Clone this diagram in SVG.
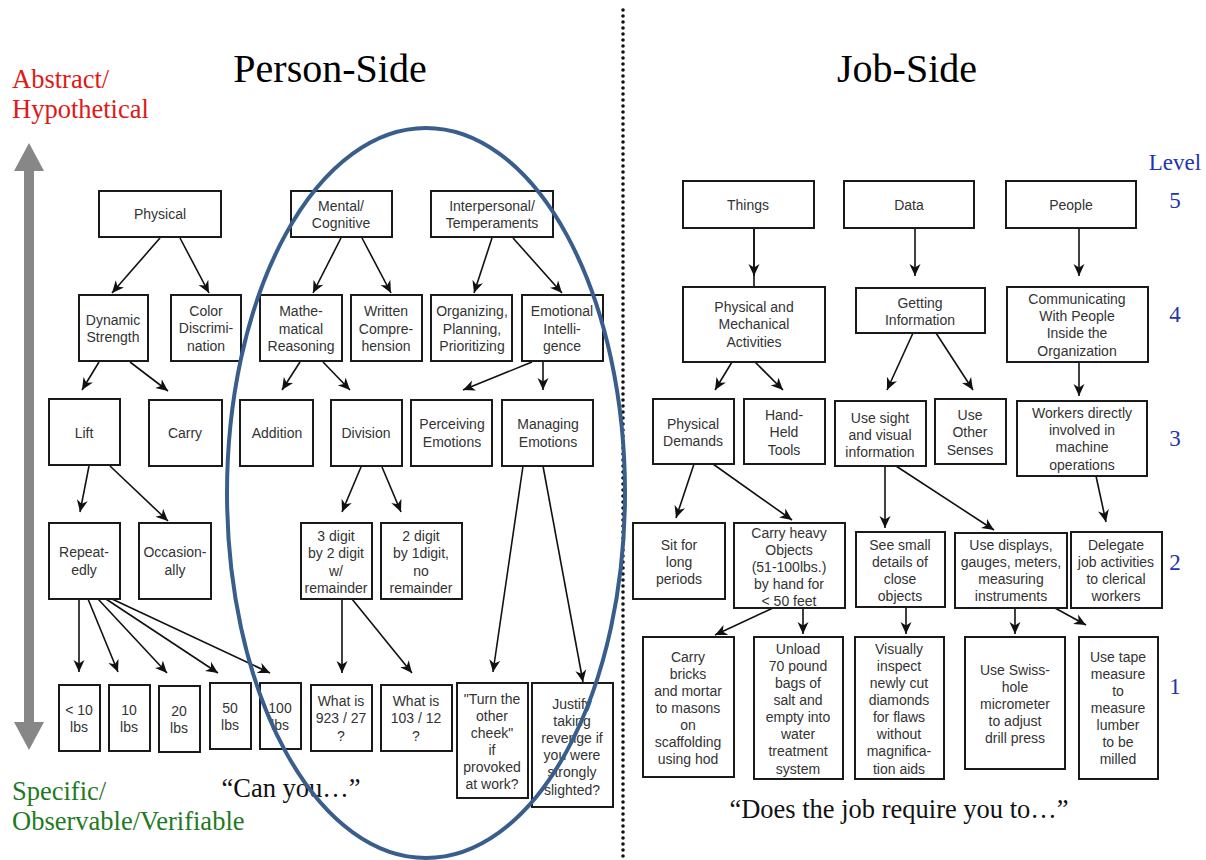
<svg xmlns="http://www.w3.org/2000/svg" width="1206" height="860" viewBox="0 0 1206 860">
<style>
.box{fill:#fff;stroke:#1a1a1a;stroke-width:2}
.t{font-family:"Liberation Sans",Arial,sans-serif;font-size:14px;fill:#333;text-anchor:middle;dominant-baseline:central}
.c{stroke:#111;stroke-width:1.6;fill:none;marker-end:url(#ah)}
.cn{stroke:#111;stroke-width:1.6;fill:none}
.serif{font-family:"Liberation Serif","Times New Roman",serif}
.lvl{font-family:"Liberation Serif","Times New Roman",serif;font-size:23px;fill:#2234b0;text-anchor:middle}
</style>
<defs>
<marker id="ah" markerUnits="userSpaceOnUse" markerWidth="13" markerHeight="12" refX="12" refY="6" orient="auto">
<path d="M0,0.5 L12,6 L0,11.5 L3.5,6 z" fill="#111"/>
</marker>
</defs>
<rect width="1206" height="860" fill="#fff"/>

<!-- titles and side labels -->
<text class="serif" x="330" y="82" font-size="40" text-anchor="middle" fill="#000">Person-Side</text>
<text class="serif" x="907" y="82" font-size="40" text-anchor="middle" fill="#000">Job-Side</text>
<text class="serif" x="12" y="88" font-size="26.5" fill="#e01818">Abstract/</text>
<text class="serif" x="12" y="118" font-size="26.5" fill="#e01818">Hypothetical</text>
<text class="serif" x="12" y="800" font-size="26.5" fill="#1f7a1f">Specific/</text>
<text class="serif" x="12" y="830" font-size="26.5" fill="#1f7a1f">Observable/Verifiable</text>
<text class="serif" x="291" y="797" font-size="26.5" text-anchor="middle" fill="#111">“Can you…”</text>
<text class="serif" x="899" y="818" font-size="26.5" text-anchor="middle" fill="#111">“Does the job require you to…”</text>
<text class="lvl" x="1175" y="170">Level</text>
<text class="lvl" x="1175" y="208">5</text>
<text class="lvl" x="1175" y="322">4</text>
<text class="lvl" x="1175" y="446">3</text>
<text class="lvl" x="1175" y="570">2</text>
<text class="lvl" x="1175" y="694">1</text>

<!-- gray double arrow -->
<path d="M24,171 L14,171 L29,143 L44,171 L34,171 L34,722 L44,722 L29,750 L14,722 L24,722 z" fill="#878787"/>

<!-- dotted divider -->
<line x1="623" y1="10" x2="623" y2="860" stroke="#111" stroke-width="3.6" stroke-linecap="round" stroke-dasharray="0 6"/>

<!-- connectors -->
<g id="connectors">
<path class="c" d="M160,238 L112,293"/>
<path class="c" d="M180,238 L209,293"/>
<path class="c" d="M341,238 L313,293"/>
<path class="c" d="M362,238 L391,293"/>
<path class="c" d="M492,238 L474,293"/>
<path class="c" d="M513,238 L562,293"/>
<path class="c" d="M99,362 L82,390"/>
<path class="c" d="M130,362 L168,391"/>
<path class="c" d="M300,362 L282,390"/>
<path class="c" d="M323,362 L350,390"/>
<path class="c" d="M532,362 L463,390"/>
<path class="c" d="M543,362 L543,390"/>
<path class="c" d="M89,466 L80,512"/>
<path class="c" d="M110,466 L168,521"/>
<path class="c" d="M361,467 L342,512"/>
<path class="c" d="M382,467 L401,512"/>
<path class="c" d="M79,599 L79,672"/>
<path class="c" d="M88,599 L118,672"/>
<path class="c" d="M98,599 L167,673"/>
<path class="c" d="M106,599 L218,673"/>
<path class="c" d="M112,599 L270,673"/>
<path class="c" d="M342,599 L342,673"/>
<path class="c" d="M352,599 L412,673"/>
<path class="c" d="M523,466 L493,672"/>
<path class="c" d="M543,466 L583,682"/>

<path class="cn" d="M754,228 L754,287"/>
<path class="c" d="M754,228 L754,276"/>
<path class="c" d="M915,228 L915,276"/>
<path class="c" d="M1079,228 L1079,276"/>
<path class="c" d="M732,362 L715,390"/>
<path class="c" d="M755,362 L783,390"/>
<path class="c" d="M913,333 L887,390"/>
<path class="c" d="M936,333 L973,390"/>
<path class="c" d="M1079,362 L1079,396"/>
<path class="c" d="M694,464 L676,518"/>
<path class="c" d="M713,464 L792,520"/>
<path class="c" d="M885,466 L885,528"/>
<path class="c" d="M896,466 L994,530"/>
<path class="c" d="M1096,476 L1106,522"/>
<path class="c" d="M773,608 L715,635"/>
<path class="c" d="M803,608 L803,634"/>
<path class="c" d="M906,607 L906,634"/>
<path class="c" d="M1015,608 L1015,634"/>
<path class="c" d="M1055,608 L1086,625"/>
</g>

<!-- person side nodes -->
<g id="physical"><rect class="box" x="99" y="191" width="122" height="46"/><text class="t" x="160" y="214">Physical</text></g>
<g id="mental"><rect class="box" x="291" y="191" width="101" height="46"/><text class="t"><tspan x="341" y="206">Mental/</tspan><tspan x="341" y="223">Cognitive</tspan></text></g>
<g id="interpersonal"><rect class="box" x="431" y="191" width="122" height="46"/><text class="t"><tspan x="492" y="206">Interpersonal/</tspan><tspan x="492" y="223">Temperaments</tspan></text></g>

<g id="dynamic"><rect class="box" x="79" y="295" width="69" height="66"/><text class="t"><tspan x="113" y="320">Dynamic</tspan><tspan x="113" y="337">Strength</tspan></text></g>
<g id="color"><rect class="box" x="171" y="295" width="70" height="66"/><text class="t"><tspan x="206" y="311">Color</tspan><tspan x="206" y="328">Discrimi-</tspan><tspan x="206" y="346">nation</tspan></text></g>
<g id="math"><rect class="box" x="260" y="295" width="82" height="66"/><text class="t"><tspan x="301" y="311">Mathe-</tspan><tspan x="301" y="329">matical</tspan><tspan x="301" y="346">Reasoning</tspan></text></g>
<g id="written"><rect class="box" x="351" y="295" width="71" height="66"/><text class="t"><tspan x="386" y="311">Written</tspan><tspan x="386" y="329">Compre-</tspan><tspan x="386" y="346">hension</tspan></text></g>
<g id="organizing"><rect class="box" x="431" y="295" width="81" height="66"/><text class="t"><tspan x="472" y="311">Organizing,</tspan><tspan x="472" y="329">Planning,</tspan><tspan x="472" y="346">Prioritizing</tspan></text></g>
<g id="emotional"><rect class="box" x="522" y="295" width="81" height="66"/><text class="t"><tspan x="562" y="311">Emotional</tspan><tspan x="562" y="329">Intelli-</tspan><tspan x="562" y="346">gence</tspan></text></g>

<g id="lift"><rect class="box" x="49" y="399" width="71" height="66"/><text class="t" x="84" y="433">Lift</text></g>
<g id="carry"><rect class="box" x="149" y="400" width="73" height="66"/><text class="t" x="185" y="433">Carry</text></g>
<g id="addition"><rect class="box" x="240" y="400" width="73" height="66"/><text class="t" x="277" y="433">Addition</text></g>
<g id="division"><rect class="box" x="331" y="400" width="71" height="66"/><text class="t" x="366" y="433">Division</text></g>
<g id="perceiving"><rect class="box" x="411" y="400" width="81" height="66"/><text class="t"><tspan x="452" y="424">Perceiving</tspan><tspan x="452" y="442">Emotions</tspan></text></g>
<g id="managing"><rect class="box" x="502" y="400" width="91" height="66"/><text class="t"><tspan x="548" y="424">Managing</tspan><tspan x="548" y="442">Emotions</tspan></text></g>

<g id="repeatedly"><rect class="box" x="49" y="523" width="71" height="76"/><text class="t"><tspan x="84" y="552">Repeat-</tspan><tspan x="84" y="570">edly</tspan></text></g>
<g id="occasionally"><rect class="box" x="139" y="523" width="72" height="76"/><text class="t"><tspan x="175" y="552">Occasion-</tspan><tspan x="175" y="570">ally</tspan></text></g>
<g id="digit3"><rect class="box" x="301" y="523" width="71" height="76"/><text class="t"><tspan x="336" y="536">3 digit</tspan><tspan x="336" y="553">by 2 digit</tspan><tspan x="336" y="571">w/</tspan><tspan x="336" y="588">remainder</tspan></text></g>
<g id="digit2"><rect class="box" x="381" y="523" width="81" height="76"/><text class="t"><tspan x="421" y="536">2 digit</tspan><tspan x="421" y="553">by 1digit,</tspan><tspan x="421" y="571">no</tspan><tspan x="421" y="588">remainder</tspan></text></g>

<g id="lbs-lt10"><rect class="box" x="59" y="685" width="41" height="66"/><text class="t"><tspan x="79" y="710">&lt; 10</tspan><tspan x="79" y="727">lbs</tspan></text></g>
<g id="lbs10"><rect class="box" x="109" y="685" width="41" height="66"/><text class="t"><tspan x="129" y="710">10</tspan><tspan x="129" y="727">lbs</tspan></text></g>
<g id="lbs20"><rect class="box" x="159" y="686" width="41" height="66"/><text class="t"><tspan x="179" y="711">20</tspan><tspan x="179" y="728">lbs</tspan></text></g>
<g id="lbs50"><rect class="box" x="210" y="683" width="41" height="66"/><text class="t"><tspan x="230" y="708">50</tspan><tspan x="230" y="725">lbs</tspan></text></g>
<g id="lbs100"><rect class="box" x="260" y="683" width="41" height="66"/><text class="t"><tspan x="280" y="708">100</tspan><tspan x="280" y="725">lbs</tspan></text></g>
<g id="q923"><rect class="box" x="311" y="685" width="61" height="66"/><text class="t"><tspan x="341" y="701">What is</tspan><tspan x="341" y="718">923 / 27</tspan><tspan x="341" y="736">?</tspan></text></g>
<g id="q103"><rect class="box" x="381" y="685" width="71" height="66"/><text class="t"><tspan x="416" y="701">What is</tspan><tspan x="416" y="718">103 / 12</tspan><tspan x="416" y="736">?</tspan></text></g>
<g id="cheek"><rect class="box" x="457" y="683" width="71" height="115"/><text class="t"><tspan x="492" y="699">"Turn the</tspan><tspan x="492" y="716">other</tspan><tspan x="492" y="733">cheek"</tspan><tspan x="492" y="750">if</tspan><tspan x="492" y="767">provoked</tspan><tspan x="492" y="784">at work?</tspan></text></g>
<g id="justify"><rect class="box" x="532" y="683" width="81" height="124"/><text class="t"><tspan x="572" y="704">Justify</tspan><tspan x="572" y="721">taking</tspan><tspan x="572" y="738">revenge if</tspan><tspan x="572" y="755">you were</tspan><tspan x="572" y="772">strongly</tspan><tspan x="572" y="790">slighted?</tspan></text></g>

<!-- job side nodes -->
<g id="things"><rect class="box" x="683" y="181" width="131" height="47"/><text class="t" x="748" y="205">Things</text></g>
<g id="data"><rect class="box" x="844" y="181" width="130" height="47"/><text class="t" x="909" y="205">Data</text></g>
<g id="people"><rect class="box" x="1006" y="181" width="130" height="47"/><text class="t" x="1071" y="205">People</text></g>
<g id="physmech"><rect class="box" x="683" y="287" width="142" height="75"/><text class="t"><tspan x="754" y="307">Physical and</tspan><tspan x="754" y="324">Mechanical</tspan><tspan x="754" y="342">Activities</tspan></text></g>
<g id="getting"><rect class="box" x="856" y="288" width="129" height="45"/><text class="t"><tspan x="920" y="303">Getting</tspan><tspan x="920" y="320">Information</tspan></text></g>
<g id="communicating"><rect class="box" x="1007" y="287" width="141" height="75"/><text class="t"><tspan x="1077" y="299">Communicating</tspan><tspan x="1077" y="316">With People</tspan><tspan x="1077" y="333">Inside the</tspan><tspan x="1077" y="351">Organization</tspan></text></g>

<g id="physdemands"><rect class="box" x="653" y="399" width="81" height="65"/><text class="t"><tspan x="693" y="424">Physical</tspan><tspan x="693" y="441">Demands</tspan></text></g>
<g id="handheld"><rect class="box" x="744" y="399" width="81" height="65"/><text class="t"><tspan x="784" y="415">Hand-</tspan><tspan x="784" y="432">Held</tspan><tspan x="784" y="450">Tools</tspan></text></g>
<g id="sight"><rect class="box" x="835" y="401" width="91" height="65"/><text class="t"><tspan x="880" y="418">Use sight</tspan><tspan x="880" y="435">and visual</tspan><tspan x="880" y="452">information</tspan></text></g>
<g id="senses"><rect class="box" x="935" y="399" width="71" height="65"/><text class="t"><tspan x="970" y="415">Use</tspan><tspan x="970" y="432">Other</tspan><tspan x="970" y="450">Senses</tspan></text></g>
<g id="workers"><rect class="box" x="1017" y="401" width="130" height="75"/><text class="t"><tspan x="1082" y="413">Workers directly</tspan><tspan x="1082" y="430">involved in</tspan><tspan x="1082" y="447">machine</tspan><tspan x="1082" y="465">operations</tspan></text></g>

<g id="sit"><rect class="box" x="633" y="523" width="92" height="76"/><text class="t"><tspan x="679" y="545">Sit for</tspan><tspan x="679" y="562">long</tspan><tspan x="679" y="579">periods</tspan></text></g>
<g id="carryheavy"><rect class="box" x="734" y="523" width="111" height="85"/><text class="t"><tspan x="789" y="533">Carry heavy</tspan><tspan x="789" y="550">Objects</tspan><tspan x="789" y="567">(51-100lbs.)</tspan><tspan x="789" y="584">by hand for</tspan><tspan x="789" y="601">&lt; 50 feet</tspan></text></g>
<g id="seesmall"><rect class="box" x="856" y="532" width="89" height="75"/><text class="t"><tspan x="900" y="545">See small</tspan><tspan x="900" y="562">details of</tspan><tspan x="900" y="579">close</tspan><tspan x="900" y="596">objects</tspan></text></g>
<g id="displays"><rect class="box" x="955" y="533" width="112" height="75"/><text class="t"><tspan x="1011" y="545">Use displays,</tspan><tspan x="1011" y="562">gauges, meters,</tspan><tspan x="1011" y="579">measuring</tspan><tspan x="1011" y="596">instruments</tspan></text></g>
<g id="delegate"><rect class="box" x="1071" y="532" width="91" height="76"/><text class="t"><tspan x="1116" y="545">Delegate</tspan><tspan x="1116" y="562">job activities</tspan><tspan x="1116" y="579">to clerical</tspan><tspan x="1116" y="596">workers</tspan></text></g>

<g id="bricks"><rect class="box" x="643" y="637" width="91" height="140"/><text class="t"><tspan x="688" y="657">Carry</tspan><tspan x="688" y="674">bricks</tspan><tspan x="688" y="691">and mortar</tspan><tspan x="688" y="708">to masons</tspan><tspan x="688" y="725">on</tspan><tspan x="688" y="742">scaffolding</tspan><tspan x="688" y="759">using hod</tspan></text></g>
<g id="unload"><rect class="box" x="754" y="637" width="89" height="142"/><text class="t"><tspan x="798" y="649">Unload</tspan><tspan x="798" y="666">70 pound</tspan><tspan x="798" y="683">bags of</tspan><tspan x="798" y="700">salt and</tspan><tspan x="798" y="717">empty into</tspan><tspan x="798" y="734">water</tspan><tspan x="798" y="751">treatment</tspan><tspan x="798" y="769">system</tspan></text></g>
<g id="inspect"><rect class="box" x="855" y="637" width="89" height="142"/><text class="t"><tspan x="899" y="649">Visually</tspan><tspan x="899" y="666">inspect</tspan><tspan x="899" y="683">newly cut</tspan><tspan x="899" y="700">diamonds</tspan><tspan x="899" y="717">for flaws</tspan><tspan x="899" y="734">without</tspan><tspan x="899" y="751">magnifica-</tspan><tspan x="899" y="769">tion aids</tspan></text></g>
<g id="swiss"><rect class="box" x="965" y="637" width="100" height="132"/><text class="t"><tspan x="1015" y="670">Use Swiss-</tspan><tspan x="1015" y="687">hole</tspan><tspan x="1015" y="704">micrometer</tspan><tspan x="1015" y="721">to adjust</tspan><tspan x="1015" y="738">drill press</tspan></text></g>
<g id="tape"><rect class="box" x="1079" y="637" width="79" height="142"/><text class="t"><tspan x="1118" y="657">Use tape</tspan><tspan x="1118" y="674">measure</tspan><tspan x="1118" y="691">to</tspan><tspan x="1118" y="708">measure</tspan><tspan x="1118" y="725">lumber</tspan><tspan x="1118" y="742">to be</tspan><tspan x="1118" y="759">milled</tspan></text></g>

<!-- highlight ellipse -->
<ellipse cx="426" cy="493" rx="199" ry="365" fill="none" stroke="#3a5e8c" stroke-width="4"/>
</svg>
